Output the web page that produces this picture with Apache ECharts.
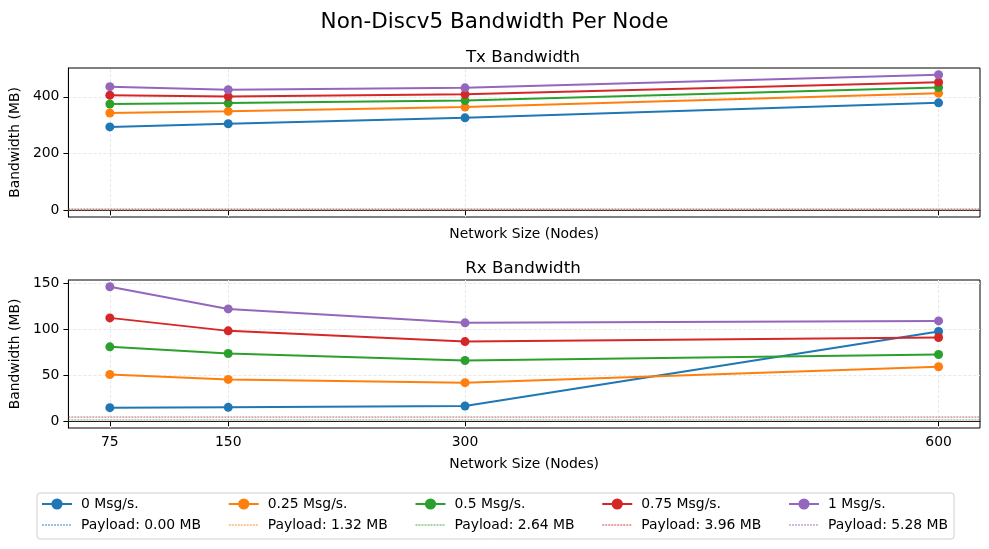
<!DOCTYPE html>
<html>
<head>
<meta charset="utf-8">
<script src="https://cdn.jsdelivr.net/npm/echarts@6/dist/echarts.min.js"></script>
<style>html,body{margin:0;padding:0;background:#fff}#c{width:989px;height:549px}</style>
</head>
<body>
<div id="c"></div>
<script>
const networkSizes = [75, 150, 300, 600];
const xTicks = [75, 150, 300, 600];
const txYTicks = [0, 200, 400];
const rxYTicks = [0, 50, 100, 150];
const rateNames = ['0 Msg/s.', '0.25 Msg/s.', '0.5 Msg/s.', '0.75 Msg/s.', '1 Msg/s.'];
const payloads = [0.00, 1.32, 2.64, 3.96, 5.28];
const colors = ['#1f77b4', '#ff7f0e', '#2ca02c', '#d62728', '#9467bd'];
const payloadColors = ['rgba(31,119,180,0.45)', 'rgba(255,127,14,0.45)', 'rgba(44,160,44,0.45)', 'rgba(214,39,40,0.45)', 'rgba(148,103,189,0.45)'];

const tx0 = [294, 305, 326, 379];
const tx025 = [343, 349, 364, 413];
const tx05 = [375, 378, 387, 433];
const tx075 = [406, 401, 409, 452];
const tx1 = [436, 425, 432, 478];

const rx0 = [14.8, 15.1, 16.6, 97.4];
const rx025 = [50.8, 45.4, 41.9, 59.2];
const rx05 = [80.8, 73.6, 66.0, 72.5];
const rx075 = [112.2, 98.1, 86.5, 90.9];
const rx1 = [146.0, 121.9, 106.8, 108.9];

const txData = [tx0, tx025, tx05, tx075, tx1];
const rxData = [rx0, rx025, rx05, rx075, rx1];
const payloadNames = payloads.map(p => 'Payload: ' + p.toFixed(2) + ' MB');

const FONT = 'DejaVu Sans';

function range(arrs) {
  const all = arrs.flat().concat(payloads);
  const lo = Math.min(...all), hi = Math.max(...all);
  const pad = (hi - lo) * 0.05;
  return [lo - pad, hi + pad];
}
const xr = [Math.min(...networkSizes), Math.max(...networkSizes)];
const xPad = (xr[1] - xr[0]) * 0.05;
const txR = range(txData);
const rxR = range(rxData);

const gridLineStyle = {color: '#e8e8e8', width: 1, type: [3, 2]};

function xAxis(gi, showLabels) {
  return {
    type: 'value', gridIndex: gi, min: xr[0] - xPad, max: xr[1] + xPad,
    name: 'Network Size (Nodes)', nameLocation: 'middle', nameGap: showLabels ? 29 : 10,
    nameTextStyle: {fontFamily: FONT, fontSize: 13.9, color: '#000'},
    axisLine: {show: true, lineStyle: {color: '#000'}},
    axisTick: {show: true, length: 5, lineStyle: {color: '#000'}, customValues: xTicks},
    axisLabel: {show: showLabels, customValues: xTicks, margin: 7, fontFamily: FONT, fontSize: 13.9, color: '#000'},
    splitLine: {show: false}
  };
}
function yAxis(gi, r, ticks) {
  return {
    type: 'value', gridIndex: gi, min: r[0], max: r[1],
    name: 'Bandwidth (MB)', nameLocation: 'middle', nameGap: 41,
    nameTextStyle: {fontFamily: FONT, fontSize: 13.9, color: '#000'},
    axisLine: {show: true, lineStyle: {color: '#000'}},
    axisTick: {show: true, length: 5, lineStyle: {color: '#000'}, customValues: ticks},
    axisLabel: {customValues: ticks, margin: 9, fontFamily: FONT, fontSize: 13.9, color: '#000'},
    splitLine: {show: false}
  };
}

const series = [];
[0, 1].forEach(gi => {
  const yt = gi === 0 ? txYTicks : rxYTicks;
  series.push({
    type: 'line', xAxisIndex: gi, yAxisIndex: gi, data: [], z: 0, silent: true,
    markLine: {
      silent: true, z: 0, symbol: ['none', 'none'], label: {show: false}, animation: false,
      lineStyle: gridLineStyle, emphasis: {disabled: true},
      data: xTicks.map(v => ({xAxis: v})).concat(yt.map(v => ({yAxis: v})))
    }
  });
  const dataSet = gi === 0 ? txData : rxData;
  rateNames.forEach((nm, i) => {
    series.push({
      name: nm, type: 'line', xAxisIndex: gi, yAxisIndex: gi, z: 10 + 2 * i,
      data: networkSizes.map((x, j) => [x, dataSet[i][j]]),
      symbol: 'circle', symbolSize: 9,
      itemStyle: {color: colors[i]},
      lineStyle: {color: colors[i], width: 2},
      emphasis: {disabled: true}, animation: false
    });
    series.push({
      name: payloadNames[i], type: 'line', xAxisIndex: gi, yAxisIndex: gi, z: 11 + 2 * i,
      data: [], symbol: 'none',
      itemStyle: {color: payloadColors[i]},
      lineStyle: {color: payloadColors[i], width: 1, type: [2, 1]},
      markLine: {
        silent: true, z: 11 + 2 * i, symbol: ['none', 'none'], label: {show: false}, animation: false,
        lineStyle: {color: payloadColors[i], width: 1, type: [2, 1]},
        emphasis: {disabled: true},
        data: [{yAxis: payloads[i]}]
      }
    });
  });
});

const legends = rateNames.map((nm, i) => ({
  orient: 'vertical', left: 41 + i * 186.75, top: 497, padding: 0,
  itemWidth: 30, itemHeight: 14, itemGap: 7, selectedMode: false,
  data: [nm, {name: payloadNames[i], itemStyle: {opacity: 0}}],
  textStyle: {fontFamily: FONT, fontSize: 13.9, color: '#000', padding: [0, 0, 0, 4]}
}));

const option = {
  backgroundColor: '#fff',
  animation: false,
  title: [
    {text: 'Non-Discv5 Bandwidth Per Node', left: 'center', top: 6, textStyle: {fontFamily: FONT, fontSize: 21.5, fontWeight: 'normal', color: '#000'}},
    {text: 'Tx Bandwidth', left: 518, textAlign: 'center', top: 44, textStyle: {fontFamily: FONT, fontSize: 16.7, fontWeight: 'normal', color: '#000'}},
    {text: 'Rx Bandwidth', left: 518, textAlign: 'center', top: 255, textStyle: {fontFamily: FONT, fontSize: 16.7, fontWeight: 'normal', color: '#000'}}
  ],
  grid: [
    {left: 66, right: 9, top: 68, height: 149, show: true, borderColor: '#000', borderWidth: 1, backgroundColor: 'transparent'},
    {left: 66, right: 9, top: 280, height: 148, show: true, borderColor: '#000', borderWidth: 1, backgroundColor: 'transparent'}
  ],
  xAxis: [xAxis(0, false), xAxis(1, true)],
  yAxis: [yAxis(0, txR, txYTicks), yAxis(1, rxR, rxYTicks)],
  legend: legends,
  graphic: [{
    type: 'rect', z: -1, silent: true,
    shape: {x: 37, y: 493, width: 917, height: 46, r: 3},
    style: {fill: '#fff', stroke: '#d0d0d0', lineWidth: 1}
  }],
  series: series
};

const chart = echarts.init(document.getElementById('c'), null, {renderer: 'canvas'});
chart.setOption(option);
</script>
</body>
</html>
